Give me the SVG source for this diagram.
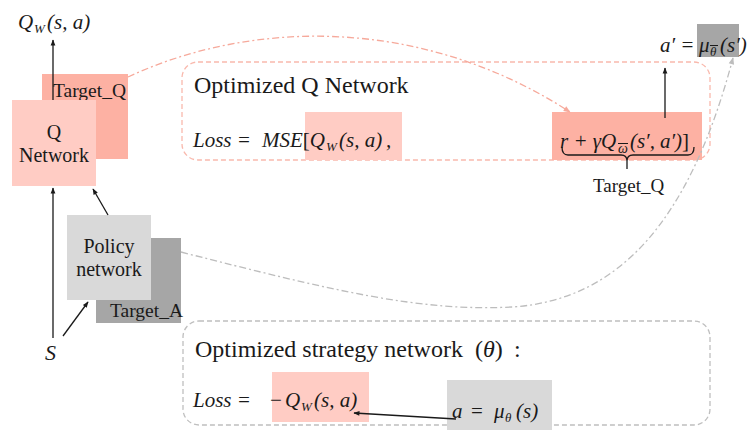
<svg xmlns="http://www.w3.org/2000/svg" width="750" height="430" viewBox="0 0 750 430">
  <defs>
    <marker id="arrowBlack" viewBox="0 0 10 10" refX="9" refY="5" markerWidth="7" markerHeight="6" orient="auto" markerUnits="userSpaceOnUse">
      <path d="M0,1 L10,5 L0,9 z" fill="#1a1a1a"/>
    </marker>
    <marker id="arrowSalmon" viewBox="0 0 10 10" refX="9" refY="5" markerWidth="8" markerHeight="7" orient="auto" markerUnits="userSpaceOnUse">
      <path d="M0,1 L10,5 L0,9 z" fill="#f6a99b"/>
    </marker>
    <marker id="arrowGrey" viewBox="0 0 10 10" refX="9" refY="5" markerWidth="8" markerHeight="7" orient="auto" markerUnits="userSpaceOnUse">
      <path d="M0,1 L10,5 L0,9 z" fill="#bdbdbd"/>
    </marker>
  </defs>
  <style>
    .lbl{font-family:"Liberation Serif","Times New Roman",serif;fill:#1a1a1a}
    .m{font-family:"Liberation Serif","Times New Roman",serif;font-style:italic;fill:#1a1a1a}
    .up{font-style:normal}
    .pink{fill:#ffccc4}
    .salmon{fill:#fdb1a3}
    .lgrey{fill:#d9d9d9}
    .dgrey{fill:#a6a6a6}
    .wire{stroke:#1a1a1a;stroke-width:1.3;fill:none}
    .bar{stroke:#1a1a1a;stroke-width:1}
    .frameQ{fill:none;stroke:#f9b9ad;stroke-width:1.3;stroke-dasharray:5,3}
    .frameP{fill:none;stroke:#bfbfbf;stroke-width:1.3;stroke-dasharray:5,3}
    .linkQ{fill:none;stroke:#f6a99b;stroke-width:1.3;stroke-dasharray:7,3,2,3}
    .linkP{fill:none;stroke:#bdbdbd;stroke-width:1.3;stroke-dasharray:7,3,2,3}
  </style>

  <!-- dashed frames -->
  <g id="frame-q">
    <rect class="frameQ" x="182" y="62" width="528" height="98" rx="16"/>
    <text class="lbl" x="194" y="93" font-size="24">Optimized Q Network</text>
  </g>
  <g id="frame-policy">
    <rect class="frameP" x="183" y="321" width="527" height="104" rx="16"/>
    <text class="lbl" x="195" y="357" font-size="24">Optimized strategy network<tspan x="475">(</tspan><tspan class="m">θ</tspan><tspan>)</tspan><tspan x="514">:</tspan></text>
  </g>

  <!-- Q loss formula -->
  <g id="q-loss">
    <rect class="pink" x="305" y="112" width="97" height="48"/>
    <rect class="salmon" x="552" y="112" width="150" height="48"/>
    <text class="m" x="193" y="147" font-size="21">Loss =</text>
    <text class="m" x="262" y="147" font-size="21">MSE<tspan class="up">[</tspan>Q</text>
    <text class="m" x="326" y="151" font-size="13">W</text>
    <text class="m" x="339" y="147" font-size="21">(s, a)</text>
    <text class="m" x="386" y="147" font-size="21">,</text>
    <text class="m" x="560" y="148" font-size="21">r + γQ</text>
    <text class="m" x="618" y="153" font-size="14">ω</text>
    <line class="bar" x1="618" y1="143.5" x2="628" y2="143.5"/>
    <text class="m" x="630" y="148" font-size="21" textLength="59" lengthAdjust="spacing">(s′, a′)<tspan class="up">]</tspan></text>
    <path class="wire" d="M562,147 q0,8 6,8 L621,155 q6,0 6,6 q0,-6 6,-6 L688,155 q6,0 6,-8"/>
    <line class="wire" x1="627" y1="161" x2="627" y2="169"/>
    <text class="lbl" x="593" y="192" font-size="19">Target_Q</text>
  </g>

  <!-- target action -->
  <g id="target-action">
    <rect class="dgrey" x="697" y="24" width="42" height="33"/>
    <text class="m" x="660" y="52" font-size="21">a′ =</text>
    <text class="m" x="699" y="52" font-size="21">μ</text>
    <text class="m" x="710" y="56" font-size="13">θ</text>
    <line class="bar" x1="710" y1="45.5" x2="718" y2="45.5"/>
    <text class="m" x="720" y="52" font-size="21">(s′)</text>
  </g>

  <!-- policy loss formula -->
  <g id="policy-loss">
    <rect class="pink" x="272" y="372" width="97" height="50"/>
    <rect class="lgrey" x="447" y="380" width="105" height="50"/>
    <text class="m" x="193" y="407" font-size="21">Loss =</text>
    <text class="lbl" x="270" y="407" font-size="21">−</text>
    <text class="m" x="285" y="407" font-size="21">Q</text>
    <text class="m" x="301" y="411" font-size="13">W</text>
    <text class="m" x="314" y="407" font-size="21">(s, a)</text>
    <text class="m" x="452" y="418" font-size="21">a</text>
    <text class="lbl" x="471" y="418" font-size="21">=</text>
    <text class="m" x="494" y="418" font-size="21">μ</text>
    <text class="m" x="505" y="422" font-size="13">θ</text>
    <text class="m" x="516" y="418" font-size="21">(s)</text>
  </g>

  <!-- network nodes -->
  <g id="target-q-node">
    <rect class="salmon" x="42" y="74" width="86" height="85"/>
    <text class="lbl" x="53" y="97" font-size="19.5">Target_Q</text>
  </g>
  <g id="q-network-node">
    <rect class="pink" x="12" y="100" width="84" height="86"/>
    <text class="lbl" x="54" y="139" font-size="20" text-anchor="middle">Q</text>
    <text class="lbl" x="54" y="162" font-size="20" text-anchor="middle">Network</text>
  </g>
  <g id="target-a-node">
    <rect class="dgrey" x="96" y="238" width="85" height="85"/>
    <text class="lbl" x="110" y="317" font-size="19.5">Target_A</text>
  </g>
  <g id="policy-node">
    <rect class="lgrey" x="67" y="215" width="84" height="85"/>
    <text class="lbl" x="109" y="253" font-size="20" text-anchor="middle">Policy</text>
    <text class="lbl" x="109" y="276" font-size="20" text-anchor="middle">network</text>
  </g>

  <!-- free labels -->
  <g id="q-output">
    <text class="m" x="18" y="29" font-size="21">Q</text>
    <text class="m" x="34" y="33" font-size="13">W</text>
    <text class="m" x="47" y="29" font-size="21">(s, a)</text>
  </g>
  <g id="state">
    <text class="m" x="45" y="360" font-size="22">S</text>
  </g>

  <!-- connectors -->
  <g id="connectors">
    <line class="wire" x1="53" y1="100" x2="53" y2="40" marker-end="url(#arrowBlack)"/>
    <line class="wire" x1="53" y1="338" x2="53" y2="188" marker-end="url(#arrowBlack)"/>
    <line class="wire" x1="108" y1="215" x2="93" y2="189" marker-end="url(#arrowBlack)"/>
    <line class="wire" x1="63" y1="336" x2="88" y2="302" marker-end="url(#arrowBlack)"/>
    <line class="wire" x1="665" y1="118" x2="665" y2="68" marker-end="url(#arrowBlack)"/>
    <path class="wire" d="M456,419 L354,413" marker-end="url(#arrowBlack)"/>
    <path class="linkQ" d="M128,77 C250,20 420,15 570,112" marker-end="url(#arrowSalmon)"/>
    <path class="linkP" d="M181,252 C330,290 420,312 512,307 C620,300 690,220 733,58" marker-end="url(#arrowGrey)"/>
  </g>
</svg>
